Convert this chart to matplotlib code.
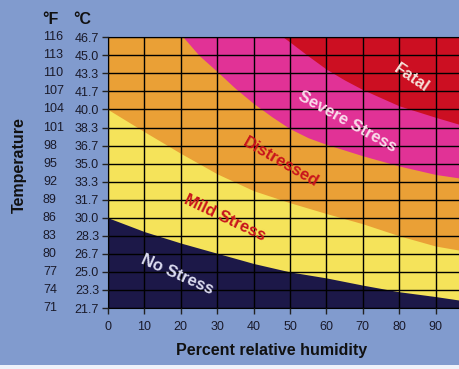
import matplotlib
matplotlib.use('Agg')
import matplotlib.pyplot as plt
import matplotlib.transforms as mtransforms

plt.rcParams['font.family'] = ['Liberation Sans', 'DejaVu Sans']

# axis ticks
humidity_ticks = [0, 10, 20, 30, 40, 50, 60, 70, 80, 90]
temp_f = [71, 74, 77, 80, 83, 86, 89, 92, 95, 98, 101, 104, 107, 110, 113, 116]
temp_c = ["21.7", "23.3", "25.0", "26.7", "28.3", "30.0", "31.7", "33.3",
          "35.0", "36.7", "38.3", "40.0", "41.7", "43.3", "45.0", "46.7"]

# zone boundaries (humidity %, top temperature °F of the zone below the line)
nostress_h = [0, 10, 20, 30, 40, 50, 60, 70, 80, 90, 96.7]
nostress_f = [86.0, 83.7, 81.8, 80.1, 78.4, 77.0, 76.0, 74.8, 73.7, 72.9, 72.3]

mild_h = [0, 10, 20, 30, 40, 50, 60, 70, 80, 90, 96.7]
mild_f = [104.0, 100.3, 96.7, 93.3, 90.5, 88.5, 86.7, 85.0, 83.0, 81.3, 80.6]

distressed_h = [0, 20.7, 25, 30, 35, 40, 45, 50, 55, 60, 70, 80, 90, 96.7]
distressed_f = [116, 116, 113.0, 110.3, 107.5, 105.0, 102.8, 100.8, 99.3,
                98.2, 96.3, 94.6, 93.2, 92.6]

severe_h = [0, 48.2, 50, 55, 60, 65, 70, 80, 90, 96.7]
severe_f = [116, 116, 115.2, 112.9, 110.7, 108.9, 107.3, 104.6, 102.7, 101.5]

XMAX = 96.7
YMIN, YMAX = 71, 116

bg = '#819bce'
fig = plt.figure(figsize=(4.6, 3.69), dpi=100, facecolor=bg)
ax = fig.add_axes([108 / 460, 1 - 308 / 369, 352 / 460, (308 - 37.3) / 369])
ax.set_xlim(0, XMAX)
ax.set_ylim(YMIN, YMAX)

# stacked zones: red fills the axes, each lower zone is painted over it
ax.set_facecolor('#cc0f22')
zones = [
    (severe_h, severe_f, '#e13296'),
    (distressed_h, distressed_f, '#eaa036'),
    (mild_h, mild_f, '#f5e35a'),
    (nostress_h, nostress_f, '#1c1848'),
]
for hs, fs, col in zones:
    ax.fill_between(hs, fs, YMIN, color=col, linewidth=0, zorder=1)

ax.set_xticks(humidity_ticks)
ax.set_yticks(temp_f)
ax.set_yticklabels(temp_c)
ax.grid(True, color='black', linewidth=1.0)
ax.set_axisbelow(False)
ax.tick_params(axis='both', direction='out', length=4.5, width=1, color='#222222',
               labelsize=9, labelcolor='#1a1a2a')
ax.tick_params(axis='y', pad=2)
ax.tick_params(axis='x', pad=5)
ax.spines['right'].set_visible(False)
for s in ['left', 'bottom', 'top']:
    ax.spines[s].set_color('black')

# °F column
tr = mtransforms.blended_transform_factory(fig.transFigure, ax.transData)
for f in temp_f:
    ax.text(43 / 460, f, str(f), transform=tr, ha='left', va='center',
            fontsize=9, color='#1a1a2a', clip_on=False)

fig.text(42 / 460, 1 - 20 / 369, '°F', fontsize=11.5, fontweight='bold',
         ha='left', va='center', color='#111111')
fig.text(73 / 460, 1 - 20 / 369, '°C', fontsize=11.5, fontweight='bold',
         ha='left', va='center', color='#111111')
fig.text(19 / 460, 1 - 165 / 369, 'Temperature', rotation=90, fontsize=11.5,
         fontweight='bold', ha='center', va='center', color='#111111')
fig.text(272 / 460, 1 - 350 / 369, 'Percent relative humidity', fontsize=11.5,
         fontweight='bold', ha='center', va='center', color='#111111')

# zone labels
labels = [
    ('Fatal', 83.5, 109.2, -34, '#f7e0d8'),
    ('Severe Stress', 65.7, 101.9, -29, '#f9dcea'),
    ('Distressed', 47.5, 95.3, -30, '#c8141c'),
    ('Mild Stress', 32.1, 86.0, -25.5, '#c8141c'),
    ('No Stress', 19.0, 76.5, -24, '#dcdcf0'),
]
for txt, hx, fy, rot, col in labels:
    ax.text(hx, fy, txt, rotation=rot, rotation_mode='anchor', ha='center',
            va='center', fontsize=12, fontweight='bold', color=col, zorder=3)

# light strip at the bottom edge
fig.patches.append(plt.Rectangle((0, 0), 1, 4 / 369, transform=fig.transFigure,
                                 facecolor='#eef2fa', edgecolor='none'))

fig.savefig('out.png', dpi=100, facecolor=bg)
